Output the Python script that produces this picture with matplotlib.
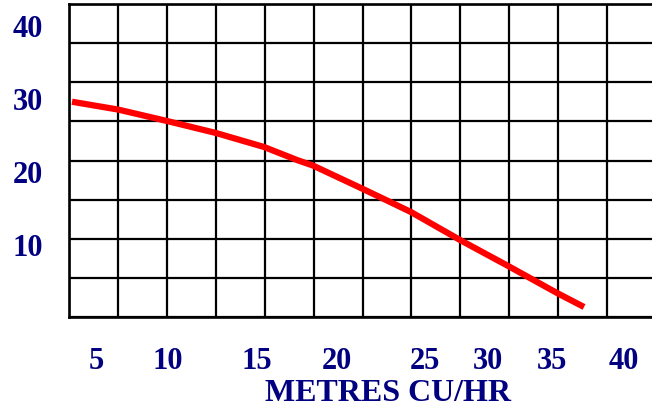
import numpy as np
import matplotlib
matplotlib.use("Agg")
import matplotlib.pyplot as plt

# Pump curve (flow in m³/hr vs head)
flow = [3.41, 6.46, 9.71, 12.95, 16.14, 18.32, 19.38, 22.63, 24.29, 25.88, 29.13, 32.38, 35.56, 37.35]
head = [29.49, 28.42, 26.85, 25.21, 23.29, 21.51, 20.75, 17.60, 15.96, 14.38, 10.55, 6.92, 3.29, 1.37]

x_tick_labels = ["5", "10", "15", "20", "25", "30", "35", "40"]
x_tick_pos = [5.0, 9.77, 15.67, 20.97, 26.80, 30.97, 35.21, 40.0]
y_tick_labels = ["10", "20", "30", "40"]
y_tick_pos = [10, 20, 30, 40]
x_label = "METRES CU/HR"

W, H = 652, 410
fig = plt.figure(figsize=(W / 100, H / 100), dpi=100)
left, right, top, bottom = 69, 656, 5, 318
ax = fig.add_axes([left / W, 1 - bottom / H, (right - left) / W, (bottom - top) / H])

xmin, xmax = 3.21, 42.12
ymin, ymax = 0.0, 42.88
ax.set_xlim(xmin, xmax)
ax.set_ylim(ymin, ymax)

navy = "#000080"
font = dict(family="Liberation Serif", weight="bold", color=navy)

ax.set_xticks(np.linspace(xmin, xmax, 13), minor=True)
ax.set_yticks(np.linspace(ymin, ymax, 9), minor=True)
ax.grid(which="minor", color="black", linewidth=1.6)
ax.tick_params(which="both", length=0)

ax.set_xticks(x_tick_pos)
ax.set_xticklabels(x_tick_labels, fontsize=22, **font)
ax.set_yticks(y_tick_pos)
ax.set_yticklabels(y_tick_labels, fontsize=22, **font)
ax.tick_params(axis="y", pad=18.5)
ax.tick_params(axis="x", pad=21)

for s in ax.spines.values():
    s.set_linewidth(1.9)
    s.set_color("black")

ax.plot(flow, head, color="#ff0000", linewidth=4.5, solid_capstyle="butt",
        solid_joinstyle="round", zorder=5)

lab = ax.set_xlabel(x_label, fontsize=23, **font)
ax.xaxis.set_label_coords(388 / W, 1 - 394 / H, transform=fig.transFigure)
lab.set_va("center")

fig.savefig("out.png", dpi=100)
